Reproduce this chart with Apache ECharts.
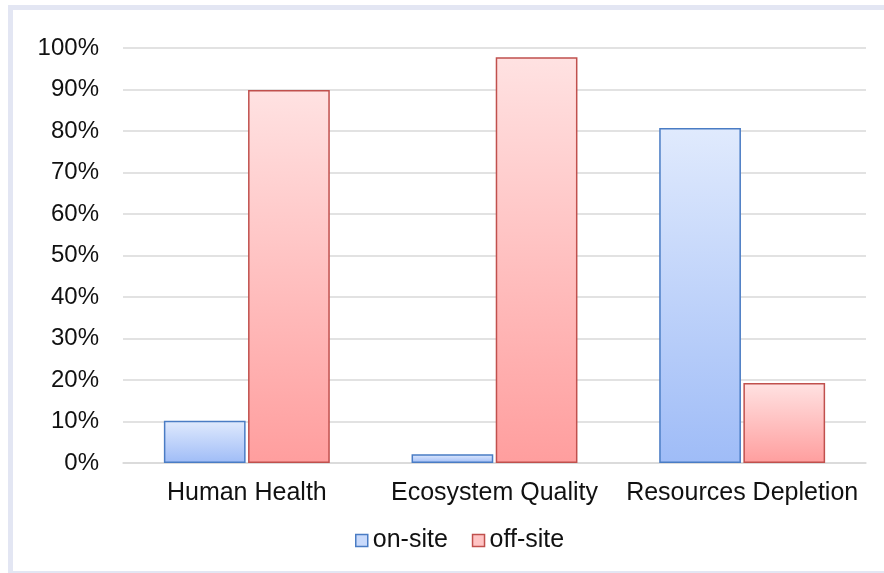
<!DOCTYPE html>
<html>
<head>
<meta charset="utf-8">
<script src="https://cdn.jsdelivr.net/npm/echarts@6/dist/echarts.min.js"></script>
<style>
body { margin: 0px; background: #fff; }
#frame {
	position: absolute; left: 8px; top: 5px; width: 900px; height: 561px;
	border: 5px solid #e3e6f3; border-right: none;
}
#main1 { position: absolute; left: 0; top: 0; width: 884px; height: 573px; }
</style>
</head>
<body>
<div id="frame"></div>
<div id="main1"></div>
<script>
var categories = ['Human Health', 'Ecosystem Quality', 'Resources Depletion'];
var onSite = [10.2, 2.1, 80.7];
var offSite = [89.9, 97.8, 19.3];
var yTicks = { min: 0, max: 100, interval: 10 };

function grad(top, bottom) {
	return new echarts.graphic.LinearGradient(0, 0, 0, 1, [
		{ offset: 0, color: top },
		{ offset: 1, color: bottom }
	]);
}

var myChart = echarts.init(document.getElementById('main1'));
var font = 'Liberation Sans, Arial, sans-serif';

var option = {
	animation: false,
	textStyle: { fontFamily: font },
	grid: { left: 123, right: 18, top: 48, bottom: 110 },
	legend: {
		left: 350,
		top: 523,
		itemWidth: 12,
		itemHeight: 12,
		itemGap: 24,
		icon: 'rect',
		textStyle: { fontSize: 25, color: '#111', fontFamily: font },
		data: [
			{ name: 'on-site', itemStyle: { color: '#c9dafb', borderColor: '#4a7cc4', borderWidth: 1.5 } },
			{ name: 'off-site', itemStyle: { color: '#ffc4c4', borderColor: '#c0504d', borderWidth: 1.5 } }
		]
	},
	xAxis: {
		type: 'category',
		data: categories,
		axisLine: { lineStyle: { color: '#d9d9d9', width: 1.5 } },
		axisTick: { show: false },
		axisLabel: { fontSize: 25, color: '#111', margin: 18, interval: 0, hideOverlap: false, fontFamily: font }
	},
	yAxis: {
		type: 'value',
		min: yTicks.min,
		max: yTicks.max,
		interval: yTicks.interval,
		axisLine: { show: false },
		axisTick: { show: false },
		splitLine: { lineStyle: { color: '#d9d9d9', width: 1.5 } },
		axisLabel: { fontSize: 24, color: '#111', margin: 24, fontFamily: font, formatter: '{value}%' }
	},
	series: [
		{
			name: 'on-site',
			type: 'bar',
			data: onSite,
			barWidth: '33%',
			barGap: '3%',
			itemStyle: { color: grad('#e0eafd', '#9fbcf7'), borderColor: '#4a7cc4', borderWidth: 1.5 }
		},
		{
			name: 'off-site',
			type: 'bar',
			data: offSite,
			barWidth: '33%',
			itemStyle: { color: grad('#ffe2e2', '#ff9e9e'), borderColor: '#c0504d', borderWidth: 1.5 }
		}
	]
};

myChart.setOption(option);
</script>
</body>
</html>
